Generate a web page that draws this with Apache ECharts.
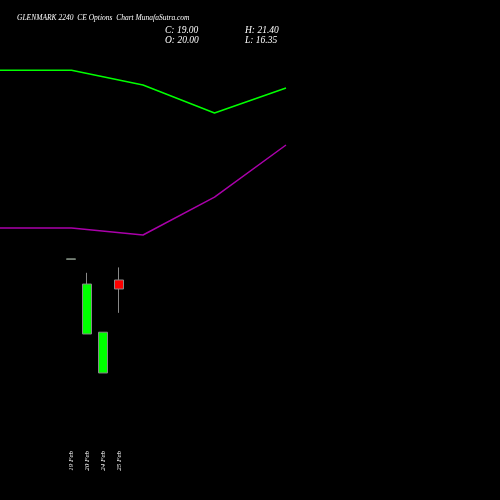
<!DOCTYPE html><html><head><meta charset="utf-8"><script src="https://cdn.jsdelivr.net/npm/echarts@6/dist/echarts.min.js"></script>
<style>body{margin:0;background:#000}#c{width:500px;height:500px}</style></head><body><div id="c"></div><script>
const dates=['19 Feb','20 Feb','24 Feb','25 Feb'];
const ohlc=[[22.3,22.35,22.3,22.35],[14.0,19.55,14.0,20.8],[9.67,14.2,9.67,14.2],[20.0,19.0,16.35,21.4]];
const linePts=['a','b','c','d','e'];
const greenLine=[43.3,43.3,41.67,38.56,41.33];
const purpleLine=[25.78,25.78,25.0,29.2,35.0];
const yMin=1.667,yMax=51.11;
const ch=echarts.init(document.getElementById('c'));
const f='"Liberation Serif",serif';
ch.setOption({backgroundColor:'#000',animation:false,
title:[{text:'GLENMARK 2240  CE Options  Chart MunafaSutra.com',left:12,top:9,textStyle:{color:'#fff',fontSize:7.5,fontStyle:'italic',fontWeight:'normal',fontFamily:f}},
{text:'C: 19.00\nO: 20.00',left:160,top:20,textStyle:{color:'#fff',fontSize:9.5,fontStyle:'italic',fontWeight:'normal',fontFamily:f,lineHeight:10}},
{text:'H: 21.40\nL: 16.35',left:240,top:20,textStyle:{color:'#fff',fontSize:9.5,fontStyle:'italic',fontWeight:'normal',fontFamily:f,lineHeight:10}}],
grid:[{left:63,width:64,top:0,bottom:55},{left:0,width:286,top:0,bottom:55}],
xAxis:[{type:'category',gridIndex:0,data:dates,axisLine:{show:false},axisTick:{show:false},axisLabel:{rotate:90,color:'#fff',fontSize:7,fontStyle:'italic',fontFamily:f,margin:6,interval:0,align:'right'},splitLine:{show:false}},
{type:'category',gridIndex:1,data:linePts,boundaryGap:false,show:false}],
yAxis:[{type:'value',gridIndex:0,min:yMin,max:yMax,show:false,splitLine:{show:false}},{type:'value',gridIndex:1,min:yMin,max:yMax,show:false,splitLine:{show:false}}],
series:[{type:'candlestick',xAxisIndex:0,yAxisIndex:0,data:ohlc,barWidth:10,itemStyle:{color:'#00ff00',color0:'#ff0000',borderColor:'#888',borderColor0:'#888',borderWidth:1}},
{type:'line',xAxisIndex:1,yAxisIndex:1,data:greenLine,symbol:'none',lineStyle:{color:'#00ff00',width:1.5}},
{type:'line',xAxisIndex:1,yAxisIndex:1,data:purpleLine,symbol:'none',lineStyle:{color:'#aa00aa',width:1.5}}]});
</script></body></html>
